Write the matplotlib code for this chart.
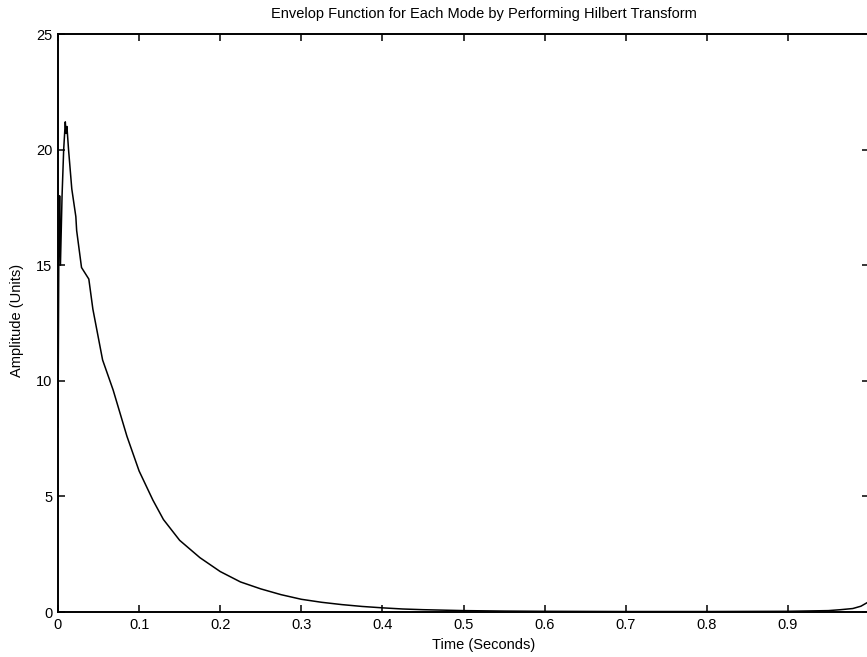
import matplotlib as mpl
mpl.use('Agg')
import matplotlib.pyplot as plt
import numpy as np

# envelope (time in seconds, amplitude in units)
time_s = [0.0, 0.001, 0.002, 0.003, 0.005, 0.007, 0.009, 0.010, 0.011, 0.013,
          0.017, 0.022, 0.023, 0.029, 0.038, 0.043, 0.055, 0.068, 0.085, 0.100,
          0.117, 0.130, 0.150, 0.175, 0.200, 0.225, 0.250, 0.275, 0.300, 0.325,
          0.350, 0.375, 0.400, 0.425, 0.450, 0.500, 0.550, 0.600, 0.700, 0.800,
          0.900, 0.950, 0.965, 0.980, 0.990, 1.000]
amplitude = [8.0, 15.5, 18.0, 15.0, 18.0, 20.0, 21.2, 20.7, 21.0, 20.0,
             18.3, 17.1, 16.5, 14.9, 14.4, 13.1, 10.9, 9.6, 7.6, 6.1,
             4.84, 4.0, 3.1, 2.35, 1.75, 1.3, 1.0, 0.75, 0.55, 0.42,
             0.32, 0.24, 0.18, 0.13, 0.10, 0.06, 0.04, 0.03, 0.02, 0.02,
             0.03, 0.06, 0.10, 0.15, 0.25, 0.45]

x_ticks = [0, 0.1, 0.2, 0.3, 0.4, 0.5, 0.6, 0.7, 0.8, 0.9]
x_labels = ['0', '0.1', '0.2', '0.3', '0.4', '0.5', '0.6', '0.7', '0.8', '0.9']
y_ticks = [0, 5, 10, 15, 20, 25]

plt.rcParams['font.family'] = ['Liberation Sans', 'DejaVu Sans']

fig = plt.figure(figsize=(8.67, 6.57), dpi=100, facecolor='white')
ax = fig.add_axes([58 / 867, 1 - 612 / 657, 811 / 867, 578 / 657])
ax.plot(time_s, amplitude, color='black', linewidth=1.1)
ax.set_xlim(0, 1)
ax.set_ylim(0, 25)
ax.set_xticks(x_ticks)
ax.set_xticklabels(x_labels)
ax.set_yticks(y_ticks)
ax.tick_params(direction='in', length=5, width=1.1, top=True, right=True,
               labelsize=10.5, pad=4)
for sp in ax.spines.values():
    sp.set_linewidth(1.4)

fig.text(484 / 867, 1 - 14 / 657, 'Envelop Function for Each Mode by Performing Hilbert Transform',
         ha='center', va='center', fontsize=10.5)
fig.text(484 / 867, 1 - 645 / 657, 'Time (Seconds)', ha='center', va='center', fontsize=10.5)
fig.text(17 / 867, 1 - 320 / 657, 'Amplitude (Units)', ha='center', va='center',
         rotation=90, fontsize=10.5)

fig.savefig('out.png', dpi=100)
